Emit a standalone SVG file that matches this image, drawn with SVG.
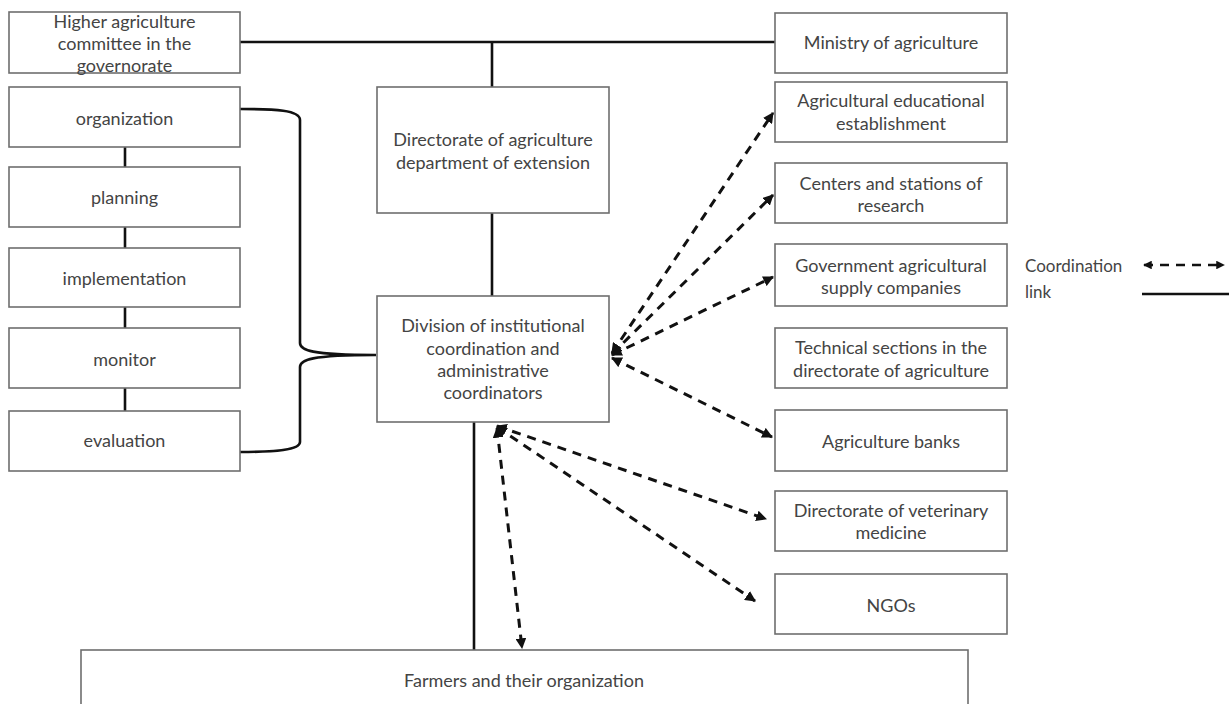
<svg xmlns="http://www.w3.org/2000/svg" width="1229" height="704" viewBox="0 0 1229 704">
<style>
  .box { fill: #ffffff; stroke: #6e6e6e; stroke-width: 1.6; }
  .t { font-family: Lato, "Open Sans", "Liberation Sans", sans-serif; font-size: 18px; fill: #444; text-anchor: middle; dominant-baseline: central; }
  .lt { font-family: Lato, "Open Sans", "Liberation Sans", sans-serif; font-size: 17px; fill: #444; dominant-baseline: central; }
  .solid { stroke: #111; stroke-width: 2.6; fill: none; }
  .dash { stroke: #111; stroke-width: 3; fill: none; stroke-dasharray: 9 7; marker-start: url(#ah); marker-end: url(#ah); }
</style>
<defs>
  <marker id="ah" viewBox="0 0 10 10" refX="9" refY="5" markerWidth="3.6" markerHeight="3.6" orient="auto-start-reverse" markerUnits="strokeWidth">
    <path d="M0,0 L10,5 L0,10 z" fill="#111"/>
  </marker>
</defs>
<rect width="1229" height="704" fill="#ffffff"/>

<g id="connectors">
  <line class="solid" x1="240" y1="42" x2="775" y2="42"/>
  <line class="solid" x1="492" y1="42" x2="492" y2="87"/>
  <line class="solid" x1="492" y1="213" x2="492" y2="296"/>
  <line class="solid" x1="474" y1="422" x2="474" y2="650"/>
  <line class="solid" x1="125" y1="147" x2="125" y2="167"/>
  <line class="solid" x1="125" y1="227" x2="125" y2="248"/>
  <line class="solid" x1="125" y1="307" x2="125" y2="328"/>
  <line class="solid" x1="125" y1="388" x2="125" y2="411"/>
  <path class="solid" d="M240,109 C275,109 300,110 300,120 L300,343 C300,350 310,355 376,355 M376,355 C310,355 300,360 300,367 L300,442 C300,450 275,452 240,452"/>
  <line class="dash" x1="612" y1="353" x2="773" y2="113"/>
  <line class="dash" x1="612" y1="354" x2="773" y2="195"/>
  <line class="dash" x1="612" y1="355" x2="773" y2="277"/>
  <line class="dash" x1="612" y1="358" x2="772" y2="437"/>
  <line class="dash" x1="497" y1="426" x2="766" y2="519"/>
  <line class="dash" x1="497" y1="427" x2="755" y2="601"/>
  <line class="dash" x1="497" y1="428" x2="522" y2="648"/>
</g>

<g id="n-higher">
  <rect class="box" x="9" y="12" width="231" height="61"/>
  <text class="t" x="124.5" y="21">Higher agriculture</text>
  <text class="t" x="124.5" y="43">committee in the</text>
  <text class="t" x="124.5" y="65">governorate</text>
</g>
<g id="n-organization">
  <rect class="box" x="9" y="87" width="231" height="60"/>
  <text class="t" x="124.5" y="118">organization</text>
</g>
<g id="n-planning">
  <rect class="box" x="9" y="167" width="231" height="60"/>
  <text class="t" x="124.5" y="197">planning</text>
</g>
<g id="n-implementation">
  <rect class="box" x="9" y="248" width="231" height="59"/>
  <text class="t" x="124.5" y="278">implementation</text>
</g>
<g id="n-monitor">
  <rect class="box" x="9" y="328" width="231" height="60"/>
  <text class="t" x="124.5" y="359">monitor</text>
</g>
<g id="n-evaluation">
  <rect class="box" x="9" y="411" width="231" height="60"/>
  <text class="t" x="124.5" y="440">evaluation</text>
</g>

<g id="n-directorate">
  <rect class="box" x="377" y="87" width="232" height="126"/>
  <text class="t" x="493" y="139">Directorate of agriculture</text>
  <text class="t" x="493" y="162">department of extension</text>
</g>
<g id="n-division">
  <rect class="box" x="377" y="296" width="232" height="126"/>
  <text class="t" x="493" y="325">Division of institutional</text>
  <text class="t" x="493" y="348">coordination and</text>
  <text class="t" x="493" y="370">administrative</text>
  <text class="t" x="493" y="392">coordinators</text>
</g>

<g id="n-ministry">
  <rect class="box" x="775" y="13" width="232" height="60"/>
  <text class="t" x="891" y="42">Ministry of agriculture</text>
</g>
<g id="n-education">
  <rect class="box" x="775" y="82" width="232" height="60"/>
  <text class="t" x="891" y="100">Agricultural educational</text>
  <text class="t" x="891" y="123">establishment</text>
</g>
<g id="n-research">
  <rect class="box" x="775" y="163" width="232" height="60"/>
  <text class="t" x="891" y="183">Centers and stations of</text>
  <text class="t" x="891" y="205">research</text>
</g>
<g id="n-supply">
  <rect class="box" x="775" y="244" width="232" height="62"/>
  <text class="t" x="891" y="265">Government agricultural</text>
  <text class="t" x="891" y="287">supply companies</text>
</g>
<g id="n-technical">
  <rect class="box" x="775" y="328" width="232" height="60"/>
  <text class="t" x="891" y="347">Technical sections in the</text>
  <text class="t" x="891" y="370">directorate of agriculture</text>
</g>
<g id="n-banks">
  <rect class="box" x="775" y="410" width="232" height="61"/>
  <text class="t" x="891" y="441">Agriculture banks</text>
</g>
<g id="n-vet">
  <rect class="box" x="775" y="491" width="232" height="60"/>
  <text class="t" x="891" y="510">Directorate of veterinary</text>
  <text class="t" x="891" y="532">medicine</text>
</g>
<g id="n-ngos">
  <rect class="box" x="775" y="574" width="232" height="60"/>
  <text class="t" x="891" y="605">NGOs</text>
</g>

<g id="n-farmers">
  <rect class="box" x="81" y="650" width="887" height="70"/>
  <text class="t" x="524" y="680">Farmers and their organization</text>
</g>

<g id="legend">
  <text class="lt" x="1025" y="265">Coordination</text>
  <text class="lt" x="1025" y="291">link</text>
  <line class="dash" x1="1144" y1="265" x2="1224" y2="265" style="stroke-width:2.4"/>
  <line class="solid" x1="1142" y1="294" x2="1229" y2="294"/>
</g>
</svg>
